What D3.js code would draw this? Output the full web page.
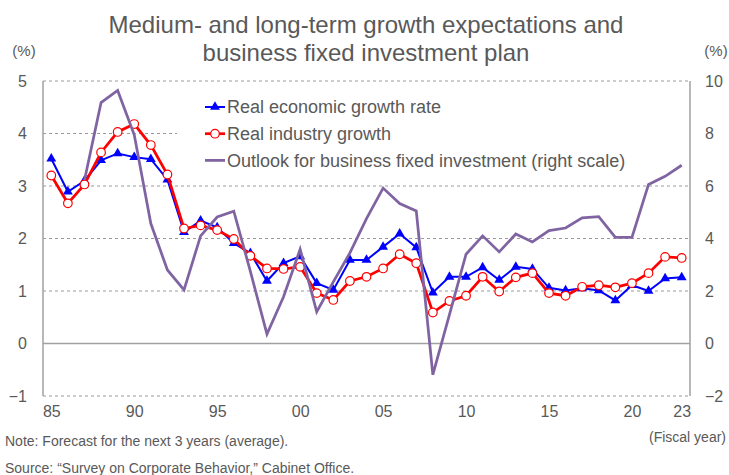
<!DOCTYPE html>
<html>
<head>
<meta charset="utf-8">
<script src="https://cdn.jsdelivr.net/npm/d3@7"></script>
<style>
  body { margin: 0; background: #fff; }
  svg text { font-family: "Liberation Sans", Arial, sans-serif; fill: #595959; }
</style>
</head>
<body>
<svg id="chart" width="729" height="475"></svg>
<script>
var years = [1985, 1986, 1987, 1988, 1989, 1990, 1991, 1992, 1993, 1994,
  1995, 1996, 1997, 1998, 1999, 2000, 2001, 2002, 2003, 2004,
  2005, 2006, 2007, 2008, 2009, 2010, 2011, 2012, 2013, 2014,
  2015, 2016, 2017, 2018, 2019, 2020, 2021, 2022, 2023];

// real economic growth rate (left scale, %)
var growthRate = [3.52, 2.89, 3.10, 3.49, 3.62, 3.55, 3.51, 3.12, 2.12, 2.34,
  2.21, 1.91, 1.72, 1.19, 1.53, 1.66, 1.15, 1.02, 1.59, 1.59,
  1.84, 2.09, 1.83, 0.97, 1.27, 1.27, 1.45, 1.21, 1.46, 1.42,
  1.06, 1.01, 1.05, 1.01, 0.82, 1.11, 1.00, 1.24, 1.26];

// real industry growth (left scale, %)
var industryGrowth = [3.20, 2.67, 3.03, 3.64, 4.03, 4.18, 3.78, 3.22, 2.19, 2.25,
  2.16, 1.99, 1.67, 1.43, 1.42, 1.46, 0.96, 0.83, 1.19, 1.27,
  1.43, 1.70, 1.53, 0.59, 0.81, 0.91, 1.27, 0.99, 1.26, 1.34,
  0.96, 0.91, 1.08, 1.11, 1.07, 1.15, 1.34, 1.65, 1.63];

// outlook for business fixed investment (right scale, %), no data before 1987
var investment = [null, null, 6.22, 9.18, 9.64, 7.95, 4.57, 2.80, 2.04, 4.10,
  4.82, 5.04, 2.75, 0.36, 1.78, 3.59, 1.21, 2.35, 3.45, 4.76,
  5.92, 5.33, 5.05, -1.19, 1.10, 3.40, 4.10, 3.49, 4.17, 3.87,
  4.30, 4.40, 4.79, 4.83, 4.04, 4.04, 6.06, 6.37, 6.79];

var xTickYears = [1985, 1990, 1995, 2000, 2005, 2010, 2015, 2020, 2023];
var leftTicks = [-1, 0, 1, 2, 3, 4, 5];
var rightTicks = [-2, 0, 2, 4, 6, 8, 10];

var seriesNames = ["Real economic growth rate", "Real industry growth",
  "Outlook for business fixed investment (right scale)"];

var margin = { top: 81, right: 39, bottom: 79, left: 43 };
var svgWidth = 729, svgHeight = 475;
var width = svgWidth - margin.left - margin.right;
var height = svgHeight - margin.top - margin.bottom;

var svg = d3.select("#chart");
var chartGroup = svg.append("g")
  .attr("transform", `translate(${margin.left}, ${margin.top})`);

var xScale = d3.scaleLinear().domain([1984.5, 2023.5]).range([0, width]);
var yLeft = d3.scaleLinear().domain([-1, 5]).range([height, 0]);
var yRight = d3.scaleLinear().domain([-2, 10]).range([height, 0]);

// gridlines
chartGroup.selectAll("line.grid")
  .data(leftTicks.filter(d => d !== 0))
  .enter()
  .append("line")
  .attr("class", "grid")
  .attr("x1", 0).attr("x2", width)
  .attr("y1", d => yLeft(d)).attr("y2", d => yLeft(d))
  .attr("stroke", "#9a9a9a")
  .attr("stroke-width", 1)
  .attr("stroke-dasharray", "3,3");

// legend background hides the gridline behind it
chartGroup.append("rect")
  .attr("x", 134).attr("y", 12)
  .attr("width", width - 135).attr("height", 58)
  .attr("fill", "#fff");

// zero line and side axes
chartGroup.append("line")
  .attr("x1", 0).attr("x2", width)
  .attr("y1", yLeft(0)).attr("y2", yLeft(0))
  .attr("stroke", "#a0a0a0").attr("stroke-width", 1.5);
chartGroup.append("line")
  .attr("x1", 0).attr("x2", 0).attr("y1", 0).attr("y2", height)
  .attr("stroke", "#a0a0a0").attr("stroke-width", 1.5);
chartGroup.append("line")
  .attr("x1", width).attr("x2", width).attr("y1", 0).attr("y2", height)
  .attr("stroke", "#a0a0a0").attr("stroke-width", 1.5);

// axes (labels only)
var leftAxis = d3.axisLeft(yLeft).tickValues(leftTicks).tickSize(0).tickPadding(16)
  .tickFormat(d3.format("d"));
var rightAxis = d3.axisRight(yRight).tickValues(rightTicks).tickSize(0).tickPadding(15)
  .tickFormat(d3.format("d"));
var bottomAxis = d3.axisBottom(xScale).tickValues(xTickYears).tickSize(0).tickPadding(10)
  .tickFormat(d => String(d % 100).padStart(2, "0"));

function styleAxis(g) {
  g.select(".domain").remove();
  g.selectAll("text").attr("font-size", "16px").attr("fill", "#595959")
    .style("font-family", '"Liberation Sans", Arial, sans-serif');
}
chartGroup.append("g").call(leftAxis).call(styleAxis);
chartGroup.append("g").attr("transform", `translate(${width},0)`).call(rightAxis).call(styleAxis);
chartGroup.append("g").attr("transform", `translate(0,${height})`).call(bottomAxis).call(styleAxis);

// series
var blueData = years.map((y, i) => ({ year: y, v: growthRate[i] }));
var redData = years.map((y, i) => ({ year: y, v: industryGrowth[i] }));
var purpleData = years.map((y, i) => ({ year: y, v: investment[i] })).filter(d => d.v !== null);

var lineLeft = d3.line().x(d => xScale(d.year)).y(d => yLeft(d.v));
var lineRight = d3.line().x(d => xScale(d.year)).y(d => yRight(d.v));

var triangle = d3.symbol().type(d3.symbolTriangle).size(42);

chartGroup.append("path").datum(blueData)
  .attr("d", lineLeft).attr("fill", "none")
  .attr("stroke", "#0000ff").attr("stroke-width", 2);
chartGroup.selectAll("path.tri").data(blueData).enter()
  .append("path").attr("class", "tri")
  .attr("d", triangle)
  .attr("transform", d => `translate(${xScale(d.year)},${yLeft(d.v)})`)
  .attr("fill", "#0000ff");

chartGroup.append("path").datum(redData)
  .attr("d", lineLeft).attr("fill", "none")
  .attr("stroke", "#ff0000").attr("stroke-width", 2.75);
chartGroup.selectAll("circle.dot").data(redData).enter()
  .append("circle").attr("class", "dot")
  .attr("cx", d => xScale(d.year)).attr("cy", d => yLeft(d.v))
  .attr("r", 4.3)
  .attr("fill", "#fff").attr("stroke", "#ff0000").attr("stroke-width", 1.2);

chartGroup.append("path").datum(purpleData)
  .attr("d", lineRight).attr("fill", "none")
  .attr("stroke", "#8064a2").attr("stroke-width", 2.75)
  .attr("stroke-linejoin", "miter");

// legend
var legend = chartGroup.append("g").attr("transform", "translate(162, 26)");
var legendRows = legend.selectAll("g").data(seriesNames).enter()
  .append("g").attr("transform", (d, i) => `translate(0, ${i * 26.7})`);
var legendColors = ["#0000ff", "#ff0000", "#8064a2"];
legendRows.append("line")
  .attr("x1", 0).attr("x2", 20).attr("y1", 0).attr("y2", 0)
  .attr("stroke", (d, i) => legendColors[i])
  .attr("stroke-width", (d, i) => i === 0 ? 2 : 2.75);
legendRows.filter((d, i) => i === 0).append("path")
  .attr("d", triangle).attr("transform", "translate(10,0)").attr("fill", "#0000ff");
legendRows.filter((d, i) => i === 1).append("circle")
  .attr("cx", 10).attr("cy", 0).attr("r", 4.3)
  .attr("fill", "#fff").attr("stroke", "#ff0000").attr("stroke-width", 1.2);
legendRows.append("text")
  .attr("x", 22).attr("y", 0).attr("dy", "0.35em")
  .attr("font-size", "18px")
  .text(d => d);

// titles and notes
svg.append("text").attr("x", 366).attr("y", 33).attr("text-anchor", "middle")
  .attr("font-size", "24px")
  .text("Medium- and long-term growth expectations and");
svg.append("text").attr("x", 366).attr("y", 61).attr("text-anchor", "middle")
  .attr("font-size", "24px")
  .text("business fixed investment plan");

svg.append("text").attr("x", 24).attr("y", 56).attr("text-anchor", "middle")
  .attr("font-size", "15px")
  .text("(%)");
svg.append("text").attr("x", 716).attr("y", 56).attr("text-anchor", "middle")
  .attr("font-size", "15px")
  .text("(%)");

svg.append("text").attr("x", 726).attr("y", 442).attr("text-anchor", "end")
  .attr("font-size", "14px")
  .text("(Fiscal year)");
svg.append("text").attr("x", 5).attr("y", 446)
  .attr("font-size", "14px")
  .text("Note: Forecast for the next 3 years (average).");
svg.append("text").attr("x", 5).attr("y", 473)
  .attr("font-size", "14px")
  .text("Source: \u201cSurvey on Corporate Behavior,\u201d Cabinet Office.");
</script>
</body>
</html>
